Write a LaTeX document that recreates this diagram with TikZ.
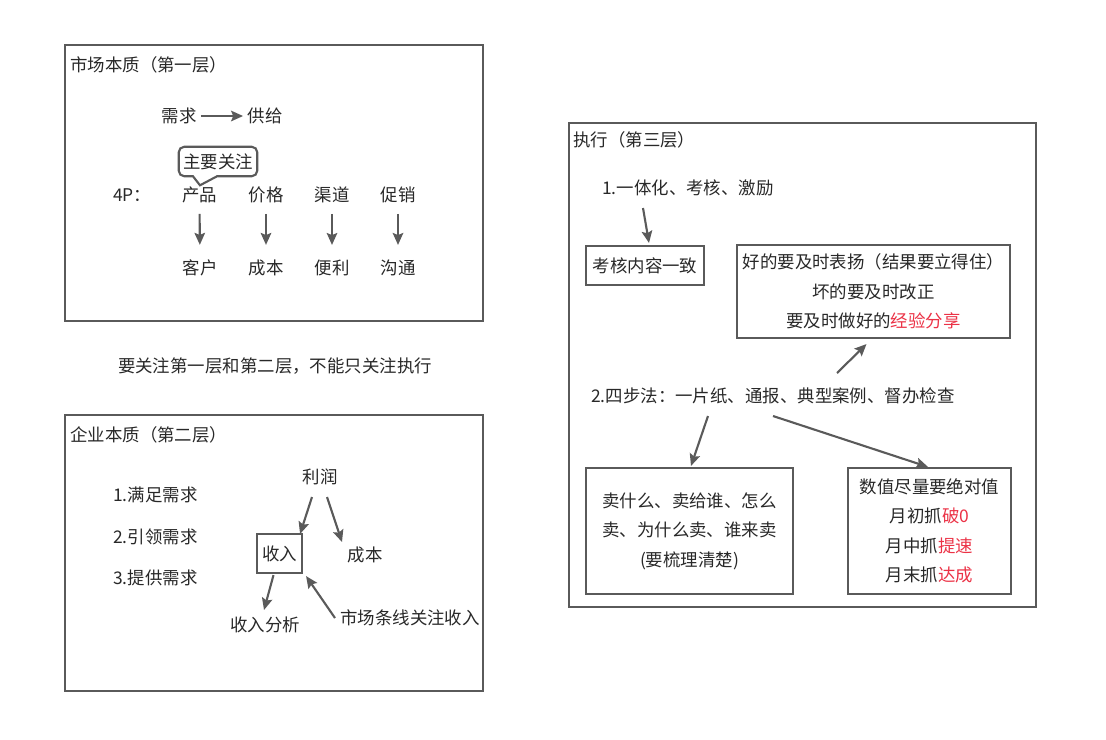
\documentclass[tikz,border=0pt]{standalone}
\usepackage{fontspec}
\setmainfont{Noto Sans CJK SC}
\usepackage{tikz}
\usetikzlibrary{arrows.meta,calc,positioning}
\definecolor{linegray}{RGB}{90,90,90}
\definecolor{textgray}{RGB}{40,40,40}
\definecolor{notered}{RGB}{235,50,70}

\begin{document}
\begin{tikzpicture}[x=0.025cm, y=-0.025cm,
        every node/.style={font=\fontsize{12.4}{21}\selectfont, text=textgray, inner sep=0pt},
        frame/.style={line width=1.5pt, draw=linegray},
        tbox/.style={draw=linegray, line width=1.5pt, align=center},
        arr/.style={-{Stealth[length=8.5pt,width=7.5pt,inset=1.5pt]}, line width=1.5pt, draw=linegray}]
            \useasboundingbox (0,0) rectangle (1106,739);

            % Primo livello: mercato
            \draw[frame] (65,45) rectangle (483,321);
            \node[anchor=west] (t1) at (70,65) {市场本质（第一层）};
            \node (xq) at (179,116) {需求};
            \node (gj) at (265,116) {供给};
            \draw[arr, shorten <=3pt, shorten >=3pt] (xq) -- (gj);

            % Le 4P e cosa guardare
            \node[anchor=west] (fp) at (113,195) {4P：};
            \node (p1) at (199.5,195) {产品};
            \node (p2) at (266,195) {价格};
            \node (p3) at (332,195) {渠道};
            \node (p4) at (398,195) {促销};
            \node (c1) at (200,268) {客户};
            \node (c2) at (266,268) {成本};
            \node (c3) at (332,268) {便利};
            \node (c4) at (398,268) {沟通};
            \foreach \i in {1,...,4}
                \draw[arr, shorten <=7.5pt, shorten >=10.5pt] (p\i) -- (c\i);

            % Fumetto sopra il prodotto
            \node[minimum width=19.5mm, minimum height=7.25mm] (co) at (218,161.5) {主要关注};
            \draw[frame] ($(co.south)+(-1,0)$) [rounded corners=4pt] -- (co.south east) -- (co.north east)
                -- (co.north west) -- (co.south west) [sharp corners] -- ($(co.south)+(-25,0)$)
                -- ($(co.south)+(-18,9)$) -- cycle;

            % Nota centrale
            \node (nt) at (275,366) {要关注第一层和第二层，不能只关注执行};

            % Secondo livello: impresa
            \draw[frame] (65,415) rectangle (483,691);
            \node[anchor=west] (t2) at (70,435) {企业本质（第二层）};
            \node[anchor=west] (n1) at (113,495) {1.满足需求};
            \node[anchor=west] (n2) at (113,537) {2.引领需求};
            \node[anchor=west] (n3) at (113,578) {3.提供需求};
            \node (lr) at (320,477) {利润};
            \node[tbox, minimum width=11.25mm, minimum height=9.75mm] (sr) at (279.5,553.5) {收入};
            \node (cb) at (365,555) {成本};
            \node (fx) at (265,625) {收入分析};
            \node[anchor=west] (sc) at (340,618) {市场条线关注收入};
            \draw[arr] ([shift={(-8,20)}]lr.center) -- ([shift={(-3,1)}]sr.north east);
            \draw[arr] ([shift={(7,20)}]lr.center) -- ([shift={(-23,-13)}]cb.center);
            \draw[arr] ([shift={(-6,1)}]sr.south) -- ([shift={(-1,-15)}]fx.center);
            \draw[arr] ([shift={(-5,0)}]sc.west) -- ([shift={(3,2)}]sr.south east);

            % Terzo livello: esecuzione
            \draw[frame] (569,123) rectangle (1036,607);
            \node[anchor=west] (t3) at (573,140) {执行（第三层）};
            \node[anchor=west] (y1) at (602,188) {1.一体化、考核、激励};
            \node[tbox, minimum width=29.5mm, minimum height=9.75mm] (kh) at (645,265.5) {考核内容一致};
            \node[tbox, minimum width=68.25mm, minimum height=23.25mm] (fb) at (873.5,291.5)
                {好的要及时表扬（结果要立得住）\\坏的要及时改正\\要及时做好的\textcolor{notered}{经验分享}};
            \node[anchor=west] (sb) at (591,396) {2.四步法：一片纸、通报、典型案例、督办检查};
            \node[tbox, minimum width=51.75mm, minimum height=31.5mm] (mb) at (689.5,531)
                {卖什么、卖给谁、怎么\\卖、为什么卖、谁来卖\\(要梳理清楚)};
            \node[tbox, minimum width=40.75mm, minimum height=31.5mm] (sz) at (929.5,531)
                {数值尽量要绝对值\\月初抓\textcolor{notered}{破0}\\月中抓\textcolor{notered}{提速}\\月末抓\textcolor{notered}{达成}};
            \draw[arr] ([shift={(41,20)}]y1.west) -- ([shift={(4,-2)}]kh.north);
            \draw[arr] ([shift={(246,-23)}]sb.west) -- ([shift={(-7,5)}]fb.south);
            \draw[arr] ([shift={(117,20)}]sb.west) -- ([shift={(1.5,-1)}]mb.north);
            \draw[arr] ([shift={(182,20)}]sb.west) -- ([shift={(-1.5,0)}]sz.north);
        \end{tikzpicture}
\end{document}
